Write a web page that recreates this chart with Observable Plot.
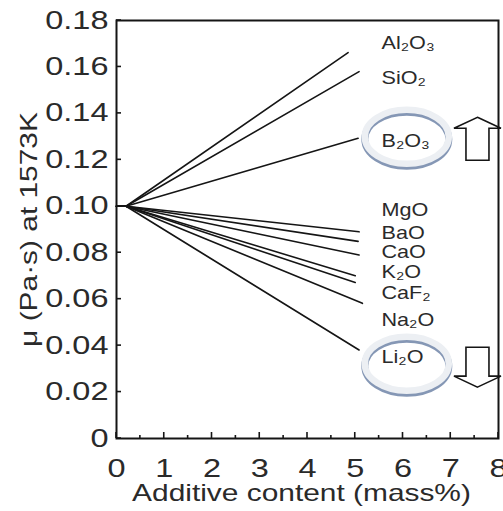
<!DOCTYPE html>
<html>
<head>
<meta charset="utf-8">
<script src="https://cdn.jsdelivr.net/npm/d3@7"></script>
<script src="https://cdn.jsdelivr.net/npm/@observablehq/plot@0.6"></script>
<style>
  html, body { margin: 0; padding: 0; background: white; }
  #chart svg { display: block; }
</style>
</head>
<body>
<div id="chart"></div>
<script>
// ---- data ----
const additives = ["Al₂O₃", "SiO₂", "B₂O₃", "MgO", "BaO", "CaO", "K₂O", "CaF₂", "Na₂O", "Li₂O"];
const originContent = [0, 0.2];          // mass%
const originViscosity = 0.10;            // Pa·s
const endContent = [4.85, 5.08, 5.06, 5.08, 5.06, 5.08, 5.0, 5.0, 5.15, 5.08];
const endViscosity = [0.1662, 0.1580, 0.1293, 0.0890, 0.0849, 0.0790, 0.0701, 0.0672, 0.0582, 0.0381];
const labelContent = 5.55;
const labelViscosity = [0.1700, 0.1553, 0.1282, 0.0981, 0.0886, 0.0800, 0.0718, 0.0624, 0.0508, 0.0348];

const xTicks = [0, 1, 2, 3, 4, 5, 6, 7, 8];
const xMinorTicks = [0.5, 1.5, 2.5, 3.5, 4.5, 5.5, 6.5, 7.5];
const yTicks = [0, 0.02, 0.04, 0.06, 0.08, 0.10, 0.12, 0.14, 0.16, 0.18];
const yTickLabels = ["0", "0.02", "0.04", "0.06", "0.08", "0.10", "0.12", "0.14", "0.16", "0.18"];

const xLabel = "Additive content (mass%)";
const yLabel = "μ (Pa·s) at 1573K";

// annotations (highlighted additives)
const highlighted = ["B₂O₃", "Li₂O"];
const ringContent = [6.09, 6.09];
const ringViscosity = [0.1295, 0.0318];
const arrowContent = [7.57, 7.57];
const arrowTail = [0.1196, 0.0391];
const arrowTip = [0.1381, 0.0219];

// ---- build tables ----
const lineRows = additives.flatMap((name, i) => [
  ...originContent.map(c => ({additive: name, content: c, viscosity: originViscosity})),
  {additive: name, content: endContent[i], viscosity: endViscosity[i]}
]);
const labelRows = additives.map((name, i) => ({additive: name, content: labelContent, viscosity: labelViscosity[i]}));
const ringRows = highlighted.map((name, i) => ({additive: name, content: ringContent[i], viscosity: ringViscosity[i]}));
const arrowRows = highlighted.map((name, i) => ({additive: name, content: arrowContent[i], tail: arrowTail[i], tip: arrowTip[i]}));

const ink = "#151515";
const textInk = "#2a2a2a";

function ringsMark(index, scales) {
  const g = d3.create("svg:g");
  for (const r of ringRows) {
    const cx = scales.x(r.content), cy = scales.y(r.viscosity);
    g.append("ellipse").attr("cx", cx).attr("cy", cy + 2).attr("rx", 42).attr("ry", 27)
      .attr("fill", "none").attr("stroke", "#8597b5").attr("stroke-width", 7);
    g.append("ellipse").attr("cx", cx).attr("cy", cy - 0.5).attr("rx", 42).attr("ry", 27)
      .attr("fill", "none").attr("stroke", "#eceff3").attr("stroke-width", 6.5);
  }
  return g.node();
}

function arrowsMark(index, scales) {
  const g = d3.create("svg:g");
  for (const a of arrowRows) {
    const cx = scales.x(a.content), yTail = scales.y(a.tail), yTip = scales.y(a.tip);
    const s = Math.sign(yTail - yTip); // +1 if pointing up
    const yBase = yTip + s * 11;
    const pts = [
      [cx, yTip], [cx + 23.5, yBase], [cx + 11.5, yBase], [cx + 11.5, yTail],
      [cx - 11.5, yTail], [cx - 11.5, yBase], [cx - 23.5, yBase]
    ];
    g.append("polygon").attr("points", pts.map(p => p.join(",")).join(" "))
      .attr("fill", "white").attr("stroke", ink).attr("stroke-width", 1.6)
      .attr("stroke-linejoin", "miter");
  }
  return g.node();
}

// inward-pointing tick marks drawn from the scales
function inwardTicks(index, scales) {
  const g = d3.create("svg:g").attr("stroke", ink).attr("stroke-width", 1.6);
  const [y0] = scales.y.range ? [scales.y(0)] : [0];
  const x0 = scales.x(0);
  for (const t of yTicks) {
    const y = scales.y(t);
    g.append("line").attr("x1", x0).attr("x2", x0 + 5).attr("y1", y).attr("y2", y);
  }
  for (const t of xTicks) {
    const x = scales.x(t);
    g.append("line").attr("x1", x).attr("x2", x).attr("y1", y0).attr("y2", y0 - 6);
  }
  for (const t of xMinorTicks) {
    const x = scales.x(t);
    g.append("line").attr("x1", x).attr("x2", x).attr("y1", y0).attr("y2", y0 - 3);
  }
  return g.node();
}

const chart = Plot.plot({
  width: 503,
  height: 511,
  marginLeft: 116,
  marginRight: 5,
  marginTop: 20,
  marginBottom: 73,
  style: {fontFamily: "'Liberation Sans', Arial, sans-serif", background: "white", color: textInk},
  x: {domain: [0, 8]},
  y: {domain: [0, 0.18]},
  marks: [
    Plot.line(lineRows, {x: "content", y: "viscosity", z: "additive", stroke: ink, strokeWidth: 1.6}),
    Plot.text(labelRows, {x: "content", y: "viscosity", text: "additive", textAnchor: "start", fontSize: 18, fill: textInk}),
    ringsMark,
    arrowsMark,
    Plot.frame({stroke: ink, strokeWidth: 2}),
    inwardTicks,
    // tick labels
    Plot.axisY({ticks: yTicks, tickSize: 0, tickPadding: 8, tickFormat: (d, i) => yTickLabels[i], label: null, fontSize: 25, fill: textInk}),
    Plot.axisX({ticks: xTicks, tickSize: 0, tickPadding: 21, tickFormat: d => String(d), label: null, fontSize: 25, fill: textInk}),
    // axis titles
    Plot.text([xLabel], {frameAnchor: "bottom", textAnchor: "middle", lineAnchor: "middle", dy: 55, dx: -6, fontSize: 23, fill: textInk}),
    Plot.text([yLabel], {frameAnchor: "left", textAnchor: "middle", lineAnchor: "middle", rotate: -90, dx: -87, fontSize: 23, fill: textInk})
  ]
});

// horizontally widen the lettering to match the stretched typeface of the reference
d3.select(chart).selectAll("text").each(function () {
  const t = this.getAttribute("transform");
  const k = this.getAttribute("font-size") === "18" || (this.parentNode && this.parentNode.getAttribute("font-size") === "18") ? 1.2 : 1.3;
  this.setAttribute("transform", (t ? t + " " : "") + `scale(${k},1)`);
});

document.getElementById("chart").append(chart);
</script>
</body>
</html>
